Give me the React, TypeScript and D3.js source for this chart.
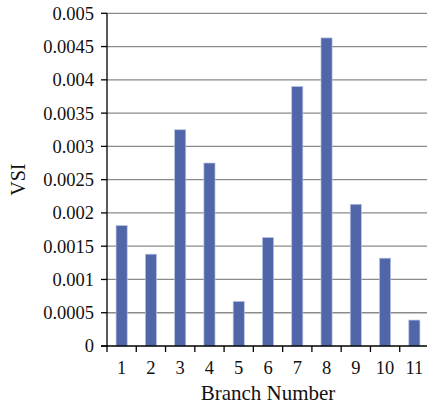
import { useRef, useEffect } from 'react';
import * as d3 from 'd3';

const branches = ['1', '2', '3', '4', '5', '6', '7', '8', '9', '10', '11'];
const vsiValues = [0.00181, 0.00138, 0.00325, 0.00275, 0.00067, 0.00163, 0.0039, 0.00463, 0.00213, 0.00132, 0.00039];
const yTicks = [0, 0.0005, 0.001, 0.0015, 0.002, 0.0025, 0.003, 0.0035, 0.004, 0.0045, 0.005];
const yTickLabels = ['0', '0.0005', '0.001', '0.0015', '0.002', '0.0025', '0.003', '0.0035', '0.004', '0.0045', '0.005'];

const W = 427;
const H = 409;
const FONT = '"Liberation Serif", "Times New Roman", serif';

export default function App() {
  const svgRef = useRef<SVGSVGElement>(null);

  useEffect(() => {
    if (!svgRef.current) return;
    const svg = d3.select(svgRef.current);
    svg.selectAll('*').remove();

    const left = 107;
    const top = 13.3;
    const bottom = 346;
    const right = 429;

    const x = d3.scaleBand<string>().domain(branches).range([left, right]).padding(0);
    const y = d3.scaleLinear().domain([0, 0.005]).range([bottom, top]);
    const barW = x.bandwidth() * 0.38;

    // horizontal gridlines
    svg.append('g')
      .selectAll('line')
      .data(yTicks.filter((t) => t > 0))
      .join('line')
      .attr('x1', left)
      .attr('x2', W)
      .attr('y1', (d) => y(d))
      .attr('y2', (d) => y(d))
      .attr('stroke', '#8a8a8a')
      .attr('stroke-width', 1.3);

    // bars
    svg.append('g')
      .selectAll('rect')
      .data(vsiValues)
      .join('rect')
      .attr('x', (_, i) => x(branches[i])! + x.bandwidth() / 2 - barW / 2)
      .attr('y', (d) => y(d))
      .attr('width', barW)
      .attr('height', (d) => bottom - y(d))
      .attr('fill', '#5166a9')
      .attr('stroke', '#b9c4e2')
      .attr('stroke-width', 0.7);

    // y axis
    const yAxis = svg.append('g');
    yAxis.append('line')
      .attr('x1', left).attr('x2', left)
      .attr('y1', top).attr('y2', bottom)
      .attr('stroke', '#000').attr('stroke-width', 1.3);
    yAxis.selectAll('line.tick')
      .data(yTicks)
      .join('line')
      .attr('class', 'tick')
      .attr('x1', left - 6).attr('x2', left)
      .attr('y1', (d) => y(d)).attr('y2', (d) => y(d))
      .attr('stroke', '#000').attr('stroke-width', 1.3);
    yAxis.selectAll('text')
      .data(yTicks)
      .join('text')
      .attr('x', left - 13)
      .attr('y', (d) => y(d))
      .attr('dy', '0.35em')
      .attr('text-anchor', 'end')
      .attr('font-family', FONT)
      .attr('font-size', 18.5)
      .attr('fill', '#111')
      .text((_, i) => yTickLabels[i]);

    // x axis
    const xAxis = svg.append('g');
    xAxis.append('line')
      .attr('x1', left - 6).attr('x2', W)
      .attr('y1', bottom).attr('y2', bottom)
      .attr('stroke', '#000').attr('stroke-width', 1.3);
    const bounds = branches.map((b) => x(b)!).concat([right]);
    xAxis.selectAll('line.tick')
      .data(bounds)
      .join('line')
      .attr('class', 'tick')
      .attr('x1', (d) => d).attr('x2', (d) => d)
      .attr('y1', bottom).attr('y2', bottom + 6)
      .attr('stroke', '#000').attr('stroke-width', 1.3);
    xAxis.selectAll('text')
      .data(branches)
      .join('text')
      .attr('x', (d) => x(d)! + x.bandwidth() / 2)
      .attr('y', bottom + 28)
      .attr('text-anchor', 'middle')
      .attr('font-family', FONT)
      .attr('font-size', 18.5)
      .attr('fill', '#111')
      .text((d) => d);

    // axis titles
    svg.append('text')
      .attr('x', (left + right) / 2)
      .attr('y', 400)
      .attr('text-anchor', 'middle')
      .attr('font-family', FONT)
      .attr('font-size', 21)
      .attr('fill', '#111')
      .text('Branch Number');

    svg.append('text')
      .attr('transform', `translate(25,${(top + bottom) / 2}) rotate(-90)`)
      .attr('text-anchor', 'middle')
      .attr('font-family', FONT)
      .attr('font-size', 20)
      .attr('fill', '#111')
      .text('VSI');
  }, []);

  return (
    <svg
      ref={svgRef}
      width={W}
      height={H}
      style={{ position: 'absolute', left: 0, top: 0, background: '#fff' }}
    />
  );
}
